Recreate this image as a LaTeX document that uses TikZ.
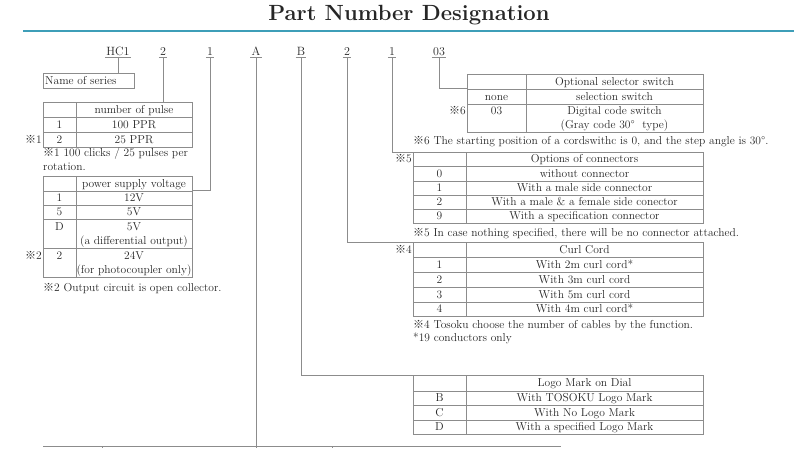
\documentclass[tikz,border=0pt]{standalone}
\usepackage{fontspec}
\newfontfamily\cjk{Noto Sans CJK JP}
\definecolor{rulecol}{RGB}{62,158,184}
\newcommand{\kome}{{\cjk\fontsize{11}{11}\selectfont ※}}

\begin{document}
\begin{tikzpicture}[
  x=1pt,y=-1pt,
  font=\fontsize{11.5}{12}\selectfont,
  every node/.style={text=black!85},
  frame/.style={draw=black!45,line width=0.6pt,inner sep=0pt,outer sep=0pt,anchor=north west},
  rule/.style={draw=black!45,line width=0.6pt},
  link/.style={draw=black!45,line width=0.6pt},
  code/.style={inner sep=1pt,anchor=south,font=\fontsize{12}{12}\selectfont},
  cell/.style={inner sep=0pt,anchor=base,yshift=-3.9pt},
  kmark/.style={cell,anchor=base east},
  note/.style={cell,anchor=base west},
]
  \useasboundingbox (0,0) rectangle (800,448);

  % title
  \node[font=\fontsize{22}{24}\selectfont\bfseries\addfontfeatures{FakeStretch=0.94},text=black!85] (title) at (409,15) {Part Number Designation};
  \draw[rulecol,line width=1.6pt] (23,31) -- (794,31);

  % code letters
  \node[code] (hc1) at (118,57) {HC1};
  \node[code] (c2)  at (163,57) {2};
  \node[code] (c3)  at (210,57) {1};
  \node[code] (cA)  at (256,57) {A};
  \node[code] (cB)  at (301,57) {B};
  \node[code] (c6)  at (347,57) {2};
  \node[code] (c7)  at (392,57) {1};
  \node[code] (c8)  at (439,57) {03};
  \foreach \n in {hc1,c2,c3,cA,cB,c6,c7,c8} { \draw[link] (\n.south west) -- (\n.south east); }

  % name of series
  \node[frame,minimum width=91pt,minimum height=15pt] (series) at (43,73) {};
  \node[note] at (45,80.5) {Name of series};

  % number of pulse
  \node[frame,minimum width=149pt,minimum height=45pt] (pulse) at (43,102) {};
  \draw[rule] (76,102) -- (76,147);
  \foreach \y in {117,132} { \draw[rule] (43,\y) -- (192,\y); }
  \node[cell] at (134,109.5) {number of pulse};
  \foreach \y/\c/\t in {124.5/1/100 PPR,139.5/2/25 PPR}
    { \node[cell] at (59.5,\y) {\c}; \node[cell] at (134,\y) {\t}; }
  \node[kmark] at (42,139.5) {\kome1};
  \node[note] at (43,153) {\kome1 100 clicks / 25 pulses per};
  \node[note] at (43,167) {rotation.};

  % power supply voltage
  \node[frame,minimum width=149pt,minimum height=101pt] (power) at (43,176) {};
  \draw[rule] (76,176) -- (76,277);
  \foreach \y in {191,205,219,248} { \draw[rule] (43,\y) -- (192,\y); }
  \node[cell] at (134,183.5) {power supply voltage};
  \foreach \y/\c/\t in {198/1/12V,212/5/5V,226.5/D/5V,255.5/2/24V}
    { \node[cell] at (59.5,\y) {\c}; \node[cell] at (134,\y) {\t}; }
  \node[cell] at (134,241) {(a differential output)};
  \node[cell] at (134,270) {(for photocoupler only)};
  \node[kmark] at (42,255.5) {\kome2};
  \node[note] at (43,288) {\kome2 Output circuit is open collector.};
  \coordinate (power-in) at (192,190);

  % optional selector switch
  \node[frame,minimum width=236pt,minimum height=58pt] (select) at (467,74) {};
  \draw[rule] (526,74) -- (526,132);
  \foreach \y in {89,104} { \draw[rule] (467,\y) -- (703,\y); }
  \node[cell] at (614.5,81.5) {Optional selector switch};
  \node[cell] at (496.5,96.5) {none};
  \node[cell] at (614.5,96.5) {selection switch};
  \node[cell] at (496.5,111) {03};
  \node[cell] at (614.5,111) {Digital code switch};
  \node[cell] at (614.5,125) {(Gray code 30°\ \ type)};
  \node[kmark] at (466,111) {\kome6};
  \node[note] at (413,141) {\kome6 The starting position of a cordswithc is 0, and the step angle is 30°.};
  \coordinate (select-in) at (467,88);

  % options of connectors
  \node[frame,minimum width=290pt,minimum height=71pt] (conn) at (413,152) {};
  \draw[rule] (466,152) -- (466,223);
  \foreach \y in {166,181,195,209} { \draw[rule] (413,\y) -- (703,\y); }
  \node[cell] at (584.5,159) {Options of connectors};
  \foreach \y/\c/\t in {173.5/0/without connector,188/1/With a male side connector,
      202/2/With a male \& a female side conector,216/9/With a specification connector}
    { \node[cell] at (439.5,\y) {\c}; \node[cell] at (584.5,\y) {\t}; }
  \node[kmark] at (412,159) {\kome5};
  \node[note] at (413,233) {\kome5 In case nothing specified, there will be no connector attached.};

  % curl cord
  \node[frame,minimum width=290pt,minimum height=74pt] (curl) at (413,242) {};
  \draw[rule] (466,242) -- (466,316);
  \foreach \y in {257,272,287,302} { \draw[rule] (413,\y) -- (703,\y); }
  \node[cell] at (584.5,249.5) {Curl Cord};
  \foreach \y/\c/\t in {264.5/1/With 2m curl cord*,279.5/2/With 3m curl cord,
      294.5/3/With 5m curl cord,309/4/With 4m curl cord*}
    { \node[cell] at (439.5,\y) {\c}; \node[cell] at (584.5,\y) {\t}; }
  \node[kmark] at (412,249.5) {\kome4};
  \node[note] at (413,325) {\kome4 Tosoku choose the number of cables by the function.};
  \node[note] at (413,338) {*19 conductors only};

  % logo mark on dial
  \node[frame,minimum width=290pt,minimum height=59pt] (logo) at (413,375) {};
  \draw[rule] (466,375) -- (466,434);
  \foreach \y in {391,405,420} { \draw[rule] (413,\y) -- (703,\y); }
  \node[cell] at (584.5,383) {Logo Mark on Dial};
  \foreach \y/\c/\t in {398/B/With TOSOKU Logo Mark,412.5/C/With No Logo Mark,427/D/With a specified Logo Mark}
    { \node[cell] at (439.5,\y) {\c}; \node[cell] at (584.5,\y) {\t}; }

  % next table, cut off at the page edge
  \draw[rule] (43,446.5) -- (561,446.5);
  \foreach \x in {102,332} { \draw[rule] (\x,446.5) -- (\x,448); }
  \coordinate (next) at (256,448);

  % connectors
  \draw[link] (hc1.south) -- (hc1.south |- series.north);
  \draw[link] (c2.south) -- (c2.south |- pulse.north);
  \draw[link] (c3.south) |- (power-in);
  \draw[link] (cA.south) -- (next);
  \draw[link] (cB.south) |- (logo.north west);
  \draw[link] (c6.south) |- (curl.north west);
  \draw[link] (c7.south) |- (conn.north west);
  \draw[link] (c8.south) |- (select-in);
\end{tikzpicture}
\end{document}
